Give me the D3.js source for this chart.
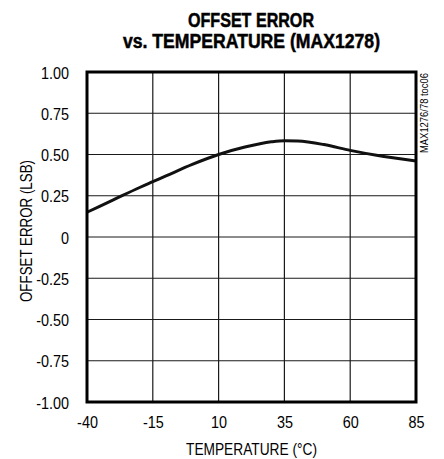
<!DOCTYPE html>
<html>
<head>
<meta charset="utf-8">
<script src="https://cdn.jsdelivr.net/npm/d3@7/dist/d3.min.js"></script>
<style>
  body { margin: 0; background: #fff; }
  text { font-family: "Liberation Sans", Arial, sans-serif; fill: #000; }
</style>
</head>
<body>
<svg id="chart" width="444" height="459"></svg>
<script>
// Data
const temperature = [-40, -30, -20, -15, -10, 0, 10, 20, 30, 35, 40, 50, 60, 70, 85];
const offsetError = [0.15, 0.225, 0.30, 0.335, 0.37, 0.44, 0.50, 0.545, 0.577, 0.584, 0.582, 0.56, 0.525, 0.495, 0.46];
const xTicks = [-40, -15, 10, 35, 60, 85];
const xTickLabels = ["-40", "-15", "10", "35", "60", "85"];
const yTicks = [-1.00, -0.75, -0.50, -0.25, 0, 0.25, 0.50, 0.75, 1.00];
const yTickLabels = ["-1.00", "-0.75", "-0.50", "-0.25", "0", "0.25", "0.50", "0.75", "1.00"];

const svg = d3.select("#chart");
const L = 87, R = 416, T = 72, B = 402;
const SX = 0.9; // horizontal condensing of label text

const x = d3.scaleLinear().domain([-40, 85]).range([L, R]);
const y = d3.scaleLinear().domain([-1, 1]).range([B, T]);

// Grid
svg.append("g").selectAll("line").data(xTicks.slice(1, -1)).join("line")
  .attr("x1", d => x(d)).attr("x2", d => x(d)).attr("y1", T).attr("y2", B)
  .attr("stroke", "#1a1a1a").attr("stroke-width", 1.2);
svg.append("g").selectAll("line").data(yTicks.slice(1, -1)).join("line")
  .attr("y1", d => y(d)).attr("y2", d => y(d)).attr("x1", L).attr("x2", R)
  .attr("stroke", "#1a1a1a").attr("stroke-width", 1.2);

// Axes (labels only)
const xAxis = d3.axisBottom(x).tickValues(xTicks).tickSize(0).tickPadding(0)
  .tickFormat((d, i) => xTickLabels[i]);
const gx = svg.append("g").attr("transform", `translate(0,${B + 26})`).call(xAxis);
gx.attr("font-family", null).attr("font-size", null);
gx.select(".domain").remove();
gx.selectAll("text").attr("font-size", 16).attr("y", 0).attr("dy", 0)
  .attr("fill", "#000").attr("transform", `scale(${SX},1)`);

const yAxis = d3.axisLeft(y).tickValues(yTicks).tickSize(0).tickPadding(0)
  .tickFormat((d, i) => yTickLabels[i]);
const gy = svg.append("g").attr("transform", `translate(${L - 18},0)`).call(yAxis);
gy.attr("font-family", null).attr("font-size", null);
gy.select(".domain").remove();
gy.selectAll("text").attr("font-size", 16).attr("x", 0).attr("dy", "0.38em")
  .attr("fill", "#000").attr("transform", `scale(${SX},1)`);

// Curve
const line = d3.line().x((d, i) => x(temperature[i])).y(d => y(d)).curve(d3.curveMonotoneX);
svg.append("path").datum(offsetError).attr("d", line)
  .attr("fill", "none").attr("stroke", "#111").attr("stroke-width", 3);

// Frame
svg.append("rect").attr("x", L).attr("y", T).attr("width", R - L).attr("height", B - T)
  .attr("fill", "none").attr("stroke", "#000").attr("stroke-width", 3);

// Titles
svg.append("text").attr("x", 251).attr("y", 27).attr("text-anchor", "middle")
  .attr("font-size", 20).attr("font-weight", "bold").attr("stroke", "#000").attr("stroke-width", 0.5)
  .attr("textLength", 126).attr("lengthAdjust", "spacingAndGlyphs").text("OFFSET ERROR");
svg.append("text").attr("x", 251.5).attr("y", 48).attr("text-anchor", "middle")
  .attr("font-size", 20).attr("font-weight", "bold").attr("stroke", "#000").attr("stroke-width", 0.5)
  .attr("textLength", 257).attr("lengthAdjust", "spacingAndGlyphs").text("vs. TEMPERATURE (MAX1278)");

svg.append("text").attr("x", 251.5).attr("y", 454.5).attr("text-anchor", "middle")
  .attr("font-size", 16).attr("textLength", 131).attr("lengthAdjust", "spacingAndGlyphs")
  .text("TEMPERATURE (°C)");

svg.append("text").attr("transform", "translate(32,231) rotate(-90)").attr("text-anchor", "middle")
  .attr("font-size", 16).attr("textLength", 142).attr("lengthAdjust", "spacingAndGlyphs")
  .text("OFFSET ERROR (LSB)");

svg.append("text").attr("transform", "translate(428,153) rotate(-90)").attr("text-anchor", "start")
  .attr("font-size", 10).attr("textLength", 80).attr("lengthAdjust", "spacingAndGlyphs")
  .text("MAX1276/78 toc06");
</script>
</body>
</html>
